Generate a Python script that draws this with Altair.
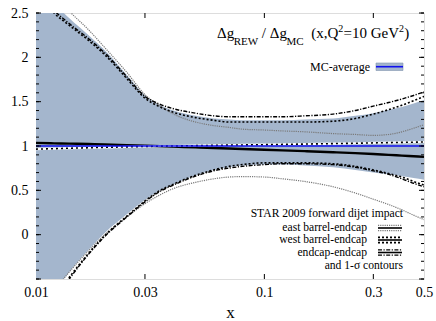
import altair as alt
import pandas as pd

# ---------------- data ----------------
x_vals = [0.01, 0.012, 0.014, 0.017, 0.02, 0.025, 0.03, 0.035, 0.04, 0.05, 0.06, 0.07,
          0.08, 0.1, 0.12, 0.15, 0.2, 0.25, 0.3, 0.35, 0.4, 0.45, 0.5]

band_hi = [2.95, 2.62, 2.44, 2.25, 2.08, 1.80, 1.57, 1.46, 1.40, 1.34, 1.31, 1.30,
           1.29, 1.29, 1.29, 1.30, 1.31, 1.34, 1.37, 1.41, 1.44, 1.48, 1.52]
band_lo = [-0.95, -0.65, -0.42, -0.17, 0.02, 0.23, 0.39, 0.50, 0.57, 0.67, 0.73, 0.76,
           0.78, 0.79, 0.79, 0.78, 0.76, 0.73, 0.70, 0.68, 0.66, 0.64, 0.62]
mc_mid = [1.0, 1.0, 1.0, 1.0, 1.0, 1.0, 1.0, 1.0, 1.0, 1.0, 1.0, 1.0,
          1.0, 1.0, 1.0, 1.0, 1.0, 1.0, 1.0, 1.0, 1.0, 1.0, 1.0]

endcap_hi = [2.80, 2.53, 2.38, 2.21, 2.05, 1.78, 1.56, 1.47, 1.42, 1.37, 1.34, 1.33,
             1.33, 1.33, 1.33, 1.34, 1.36, 1.40, 1.45, 1.49, 1.53, 1.57, 1.61]
endcap_lo = [-1.05, -0.75, -0.50, -0.22, -0.02, 0.20, 0.37, 0.49, 0.56, 0.66, 0.72, 0.75,
             0.77, 0.79, 0.80, 0.80, 0.79, 0.76, 0.72, 0.68, 0.63, 0.58, 0.54]
west_hi = [2.76, 2.50, 2.36, 2.19, 2.03, 1.76, 1.54, 1.44, 1.38, 1.32, 1.29, 1.27,
           1.27, 1.27, 1.27, 1.27, 1.28, 1.31, 1.36, 1.41, 1.46, 1.51, 1.56]
west_lo = [-1.00, -0.72, -0.48, -0.21, -0.01, 0.21, 0.38, 0.50, 0.57, 0.67, 0.73, 0.77,
           0.79, 0.81, 0.81, 0.81, 0.80, 0.77, 0.73, 0.69, 0.65, 0.60, 0.56]
east_hi = [3.00, 2.72, 2.52, 2.31, 2.11, 1.83, 1.58, 1.45, 1.36, 1.27, 1.23, 1.21,
           1.19, 1.18, 1.17, 1.16, 1.14, 1.13, 1.12, 1.13, 1.16, 1.20, 1.24]
east_lo = [-0.90, -0.63, -0.42, -0.18, 0.00, 0.20, 0.35, 0.45, 0.52, 0.59, 0.63, 0.65,
           0.655, 0.65, 0.63, 0.60, 0.54, 0.47, 0.40, 0.34, 0.28, 0.22, 0.17]

rew_mid = [1.035, 1.03, 1.027, 1.022, 1.018, 1.01, 1.003, 0.998, 0.993, 0.985, 0.978, 0.972,
           0.967, 0.958, 0.951, 0.942, 0.930, 0.92, 0.91, 0.90, 0.892, 0.884, 0.877]
rew_mid2 = [0.965, 0.97, 0.975, 0.98, 0.985, 0.99, 0.995, 0.998, 1.0, 1.004, 1.007, 1.01,
            1.012, 1.015, 1.018, 1.022, 1.027, 1.031, 1.035, 1.038, 1.041, 1.043, 1.045]

x_label_vals = [0.01, 0.03, 0.1, 0.3, 0.5]
x_tick_vals = [0.03, 0.1, 0.3]
y_label_vals = [0, 0.5, 1, 1.5, 2, 2.5]
y_major_vals = [-0.5, 0, 0.5, 1, 1.5, 2, 2.5]
y_minor_vals = [round(-0.5 + 0.1 * i, 1) for i in range(31)]

legend_labels = ["east barrel-endcap", "west barrel-endcap", "endcap-endcap"]

# ---------------- styling ----------------
W, H = 388, 266
SERIF = "Liberation Serif"
BAND = "#a4b6cd"
SMOOTH = "monotone"
EAST = dict(color="#7a7a7a", strokeWidth=1.2, strokeDash=[1.2, 1])
WEST = dict(color="black", strokeWidth=1.6, strokeDash=[2, 2])
ENDC = dict(color="black", strokeWidth=1.4, strokeDash=[4, 1.5, 1.2, 1.5])

xs = alt.Scale(type="log", domain=[0.01, 0.5], nice=False)
ys = alt.Scale(domain=[-0.5, 2.5], nice=False)
xaxis = alt.Axis(title="x", values=x_label_vals, format="~g", ticks=False, tickSize=0,
                 domain=False, grid=False, labelFont=SERIF, labelFontSize=14,
                 labelPadding=6, labelOverlap=False, labelBound=False, labelFlush=False,
                 titleFont=SERIF, titleFontSize=17, titleFontWeight="normal",
                 titlePadding=5, labelColor="black", titleColor="black")
yaxis = alt.Axis(title=None, values=y_label_vals, format="~g", ticks=False, tickSize=0,
                 domain=False, grid=False, labelFont=SERIF, labelFontSize=14,
                 labelPadding=8, labelOverlap=False, labelColor="black")

X = alt.X("x:Q", scale=xs, axis=xaxis)


def Y(field):
    return alt.Y(f"{field}:Q", scale=ys, axis=yaxis)


band_df = pd.DataFrame({"x": x_vals, "lo": band_lo, "hi": band_hi, "y": mc_mid})


def long(parts):
    rows = []
    for name, arr in parts:
        for xv, yv in zip(x_vals, arr):
            rows.append({"x": xv, "y": yv, "grp": name})
    return pd.DataFrame(rows)


band = alt.Chart(band_df).mark_area(color=BAND, opacity=1, clip=True,
                                    interpolate=SMOOTH).encode(
    x=X, y=Y("lo"), y2="hi")

east = alt.Chart(long([("hi", east_hi), ("lo", east_lo)])).mark_line(
    clip=True, interpolate=SMOOTH, **EAST).encode(x=X, y=Y("y"), detail="grp:N")
west = alt.Chart(long([("hi", west_hi), ("lo", west_lo)])).mark_line(
    clip=True, interpolate=SMOOTH, **WEST).encode(x=X, y=Y("y"), detail="grp:N")
endcap = alt.Chart(long([("hi", endcap_hi), ("lo", endcap_lo)])).mark_line(
    clip=True, interpolate=SMOOTH, **ENDC).encode(x=X, y=Y("y"), detail="grp:N")

mid_df = pd.DataFrame({"x": x_vals, "y": rew_mid})
mid2_df = pd.DataFrame({"x": x_vals, "y": rew_mid2})
mid = alt.Chart(mid_df).mark_line(color="black", strokeWidth=2.4, clip=True,
                                  interpolate=SMOOTH).encode(x=X, y=Y("y"))
mid2_white = alt.Chart(mid2_df).mark_line(color="white", strokeWidth=2.2, clip=True,
                                          interpolate=SMOOTH).encode(x=X, y=Y("y"))
mid2_dash = alt.Chart(mid2_df).mark_line(color="black", strokeWidth=1.6,
                                         strokeDash=[2, 3], clip=True,
                                         interpolate=SMOOTH).encode(x=X, y=Y("y"))
blue = alt.Chart(band_df).mark_line(color="#1010ee", strokeWidth=1.6, clip=True).encode(
    x=X, y=Y("y"))

# inward ticks
ymaj = pd.DataFrame({"y": y_major_vals})
ymin = pd.DataFrame({"y": y_minor_vals})
xt = pd.DataFrame({"x": x_tick_vals})
tick_layers = [
    alt.Chart(ymaj).mark_rule(color="black", strokeWidth=1).encode(
        y=Y("y"), x=alt.value(0), x2=alt.value(5)),
    alt.Chart(ymaj).mark_rule(color="black", strokeWidth=1).encode(
        y=Y("y"), x=alt.value(W - 5), x2=alt.value(W)),
    alt.Chart(ymin).mark_rule(color="black", strokeWidth=1).encode(
        y=Y("y"), x=alt.value(0), x2=alt.value(3)),
    alt.Chart(ymin).mark_rule(color="black", strokeWidth=1).encode(
        y=Y("y"), x=alt.value(W - 3), x2=alt.value(W)),
    alt.Chart(xt).mark_rule(color="black", strokeWidth=1).encode(
        x=X, y=alt.value(0), y2=alt.value(5)),
    alt.Chart(xt).mark_rule(color="black", strokeWidth=1).encode(
        x=X, y=alt.value(H - 5), y2=alt.value(H)),
]

one = pd.DataFrame({"a": [0]})


def txt(s, x, y, size, align="left", baseline="alphabetic"):
    return alt.Chart(one).mark_text(text=s, font=SERIF, fontSize=size, align=align,
                                    baseline=baseline, color="black").encode(
        x=alt.value(x), y=alt.value(y))


# title pieces: Δg_REW / Δg_MC (x,Q²=10 GeV²)
title_layers = [
    txt("Δg", 181, 25, 15),
    txt("REW", 197.7, 31.5, 11),
    txt("/", 225.8, 25, 15),
    txt("Δg", 233.8, 25, 15),
    txt("MC", 250.5, 31.5, 11),
    txt("(x,Q", 302.3, 25, 15, align="right"),
    txt("2", 302.3, 19, 10),
    txt("=10 GeV", 307.5, 25, 15),
    txt("2", 363.0, 19, 10),
    txt(")", 368.2, 25, 15),
]

# MC-average legend
mc_leg = [
    txt("MC-average", 334, 54, 12, align="right", baseline="middle"),
    alt.Chart(one).mark_rect(color=BAND, stroke="#7f93ad", strokeWidth=0.6).encode(
        x=alt.value(340), x2=alt.value(367), y=alt.value(50), y2=alt.value(57.5)),
    alt.Chart(one).mark_rule(color="#1010ee", strokeWidth=1.6).encode(
        x=alt.value(340), x2=alt.value(367), y=alt.value(53.7)),
]

# STAR legend
star_leg = [
    txt("STAR 2009 forward dijet impact", 367, 201, 11.6, align="right", baseline="middle"),
    txt(legend_labels[0], 331, 215, 11.6, align="right", baseline="middle"),
    txt(legend_labels[1], 331, 227, 11.6, align="right", baseline="middle"),
    txt(legend_labels[2], 331, 239.5, 11.6, align="right", baseline="middle"),
    txt("and 1-σ contours", 367, 253, 11.6, align="right", baseline="middle"),
]
sym_centers = [215, 227, 239.5]
for st, cy in zip([EAST, WEST, ENDC], sym_centers):
    for dy in (-2.6, 2.6):
        star_leg.append(alt.Chart(one).mark_rule(**st).encode(
            x=alt.value(342), x2=alt.value(366), y=alt.value(cy + dy)))
    star_leg.append(alt.Chart(one).mark_rule(color="black", strokeWidth=1.6).encode(
        x=alt.value(342), x2=alt.value(366), y=alt.value(cy)))

chart = alt.layer(
    band, east, west, endcap, mid, mid2_white, mid2_dash, blue,
    *tick_layers, *title_layers, *mc_leg, *star_leg
).properties(
    width=W, height=H,
    autosize=alt.AutoSizeParams(type="none"),
    padding={"left": 36, "top": 13, "right": 12, "bottom": 42},
).configure_view(stroke="black", strokeWidth=1.2).configure(background="white")

chart.save("out.html", embed_options={"renderer": "svg", "actions": False})
